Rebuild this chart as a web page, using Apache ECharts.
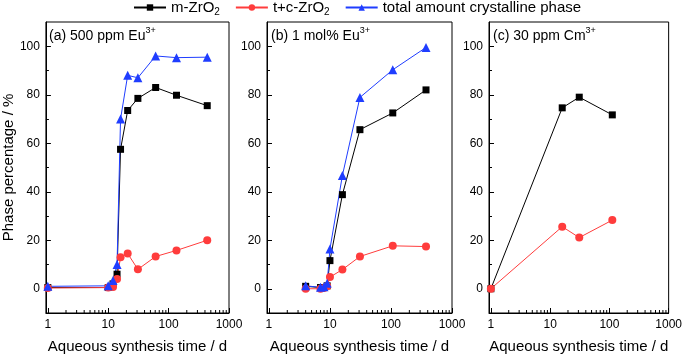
<!DOCTYPE html>
<html>
<head>
<meta charset="utf-8">
<script src="https://cdn.jsdelivr.net/npm/echarts@6/dist/echarts.min.js"></script>
<style>
    html, body { margin: 0; padding: 0; background: #fff; }
    #phaseChart { width: 685px; height: 359px; }
</style>
</head>
<body>
<div id="phaseChart"></div>
<script>
// (a) 500 ppm Eu3+
var timeA = [1, 10, 12, 14, 16, 21, 31, 61, 135, 436];
var mA = [0.5, 0.5, 2, 6, 57.5, 73.5, 78.5, 83, 79.8, 75.5];
var tcA = [0.3, 0.5, 0.7, 4, 13, 14.5, 8, 13.3, 15.8, 20];
var totalA = [1, 1.2, 3.4, 10, 70, 88, 87, 96, 95.3, 95.5];

// (b) 1 mol% Eu3+
var timeB = [4, 7, 8, 9, 10, 16, 31, 107, 375];
var mB = [1, 0.5, 0.5, 1.2, 11.6, 38.8, 65.6, 72.5, 82];
var tcB = [0, 0, 0.3, 1, 4.8, 7.9, 13.3, 17.7, 17.4];
var totalB = [1.2, 0.6, 0.8, 2.3, 16.4, 46.7, 78.9, 90.3, 99.5];

// (c) 30 ppm Cm3+
var timeC = [1, 16, 31, 112];
var mC = [0, 74.6, 79, 71.7];
var tcC = [0, 25.6, 21.1, 28.3];

// ticks
var xMajor = [1, 10, 100, 1000];
var xMinor = [2, 3, 4, 5, 6, 7, 8, 9, 20, 30, 40, 50, 60, 70, 80, 90, 200, 300, 400, 500, 600, 700, 800, 900];
var yMajor = [0, 20, 40, 60, 80, 100];
var yMinor = [10, 30, 50, 70, 90];

var FONT = 'Liberation Sans, Arial, sans-serif';
var C_M = '#000000', C_TC = '#ff3c3c', C_TOT = '#1f3dff';
var NAME_M = 'm-ZrO2', NAME_TC = 't+c-ZrO2', NAME_TOT = 'total amount crystalline phase';

function pairs(x, y) {
    return x.map(function (t, i) { return [t, y[i]]; });
}

function lineSeries(name, x, y, idx, color, symbol, size) {
    return {
        type: 'line', name: name,
        xAxisIndex: idx, yAxisIndex: idx * 2,
        data: pairs(x, y),
        symbol: symbol, symbolSize: size,
        itemStyle: { color: color },
        lineStyle: { color: color, width: 1 },
        emphasis: { disabled: true },
        animation: false
    };
}

// log axis minor ticks (2..9 of each decade), drawn through the axis scale
function minorTickSeries(idx) {
    return {
        type: 'custom', silent: true,
        xAxisIndex: idx, yAxisIndex: idx * 2,
        data: xMinor.map(function (v) { return [v]; }),
        renderItem: function (params, api) {
            var p = api.coord([api.value(0), -10]);
            return {
                type: 'line',
                shape: { x1: p[0], y1: p[1], x2: p[0], y2: p[1] - 3 },
                style: { stroke: '#000', lineWidth: 1 }
            };
        },
        z: 10, animation: false
    };
}

var gridPos = [{ left: 45, width: 184 }, { left: 267, width: 185 }, { left: 489, width: 183 }];
var titles = ['(a) 500 ppm Eu', '(b) 1 mol% Eu', '(c) 30 ppm Cm'];

var grids = [], xAxes = [], yAxes = [], titleList = [];
gridPos.forEach(function (g, i) {
    grids.push({
        left: g.left, width: g.width, top: 22, height: 294,
        show: true, borderColor: '#000', borderWidth: 1, backgroundColor: 'transparent'
    });
    xAxes.push({
        type: 'log', gridIndex: i, min: 0.93, max: 1000, logBase: 10,
        name: 'Aqueous synthesis time / d', nameLocation: 'middle', nameGap: 26,
        nameTextStyle: { fontFamily: FONT, fontSize: 15, color: '#000' },
        axisLine: { onZero: false, lineStyle: { color: '#000', width: 1 } },
        axisTick: { inside: true, length: 5, customValues: xMajor, lineStyle: { color: '#000' } },
        axisLabel: {
            customValues: xMajor, margin: 6, fontFamily: FONT, fontSize: 12, color: '#000',
            formatter: function (v) { return String(Math.round(v)); }
        },
        splitLine: { show: false }
    });
    yAxes.push({
        type: 'value', gridIndex: i, min: -10, max: 110,
        name: i === 0 ? 'Phase percentage / %' : '', nameLocation: 'middle', nameGap: 22,
        nameTextStyle: { fontFamily: FONT, fontSize: 15, color: '#000' },
        axisLine: { show: true, onZero: false, lineStyle: { color: '#000', width: 1 } },
        axisTick: { show: true, inside: true, length: 5, customValues: yMajor, lineStyle: { color: '#000' } },
        axisLabel: { customValues: yMajor, margin: 6, fontFamily: FONT, fontSize: 12, color: '#000' },
        splitLine: { show: false }
    });
    yAxes.push({
        type: 'value', gridIndex: i, min: -10, max: 110, position: 'left',
        axisLine: { show: false, onZero: false },
        axisTick: { show: true, inside: true, length: 3, customValues: yMinor, lineStyle: { color: '#000' } },
        axisLabel: { show: false },
        splitLine: { show: false }
    });
    titleList.push({
        text: '{n|' + titles[i] + '}{s|3+}',
        left: g.left + 4, top: 26, padding: 0,
        textStyle: {
            fontWeight: 'normal',
            rich: {
                n: { fontFamily: FONT, fontSize: 14, fontWeight: 'normal', color: '#000', lineHeight: 20 },
                s: { fontFamily: FONT, fontSize: 9, fontWeight: 'normal', color: '#000', verticalAlign: 'top' }
            }
        }
    });
});

var phaseChart = echarts.init(document.getElementById('phaseChart'));
phaseChart.setOption({
    animation: false,
    title: titleList,
    legend: {
        data: [NAME_M, NAME_TC, NAME_TOT],
        left: 133, top: 0, padding: 0,
        itemWidth: 32, itemHeight: 8, itemGap: 15,
        formatter: function (name) {
            if (name === NAME_M) return '{n|m-ZrO}{b|2}';
            if (name === NAME_TC) return '{n|t+c-ZrO}{b|2}';
            return '{n|' + name + '}';
        },
        textStyle: {
            rich: {
                n: { fontFamily: FONT, fontSize: 15, color: '#000', lineHeight: 20 },
                b: { fontFamily: FONT, fontSize: 10, color: '#000', verticalAlign: 'bottom' }
            }
        }
    },
    grid: grids,
    xAxis: xAxes,
    yAxis: yAxes,
    series: [
        lineSeries(NAME_M, timeA, mA, 0, C_M, 'rect', 7),
        lineSeries(NAME_TC, timeA, tcA, 0, C_TC, 'circle', 8),
        lineSeries(NAME_TOT, timeA, totalA, 0, C_TOT, 'triangle', 9),
        lineSeries(NAME_M, timeB, mB, 1, C_M, 'rect', 7),
        lineSeries(NAME_TC, timeB, tcB, 1, C_TC, 'circle', 8),
        lineSeries(NAME_TOT, timeB, totalB, 1, C_TOT, 'triangle', 9),
        lineSeries(NAME_M, timeC, mC, 2, C_M, 'rect', 7),
        lineSeries(NAME_TC, timeC, tcC, 2, C_TC, 'circle', 8),
        minorTickSeries(0),
        minorTickSeries(1),
        minorTickSeries(2)
    ]
});
window.addEventListener('resize', function () {
    phaseChart.resize();
});
</script>
</body>
</html>
